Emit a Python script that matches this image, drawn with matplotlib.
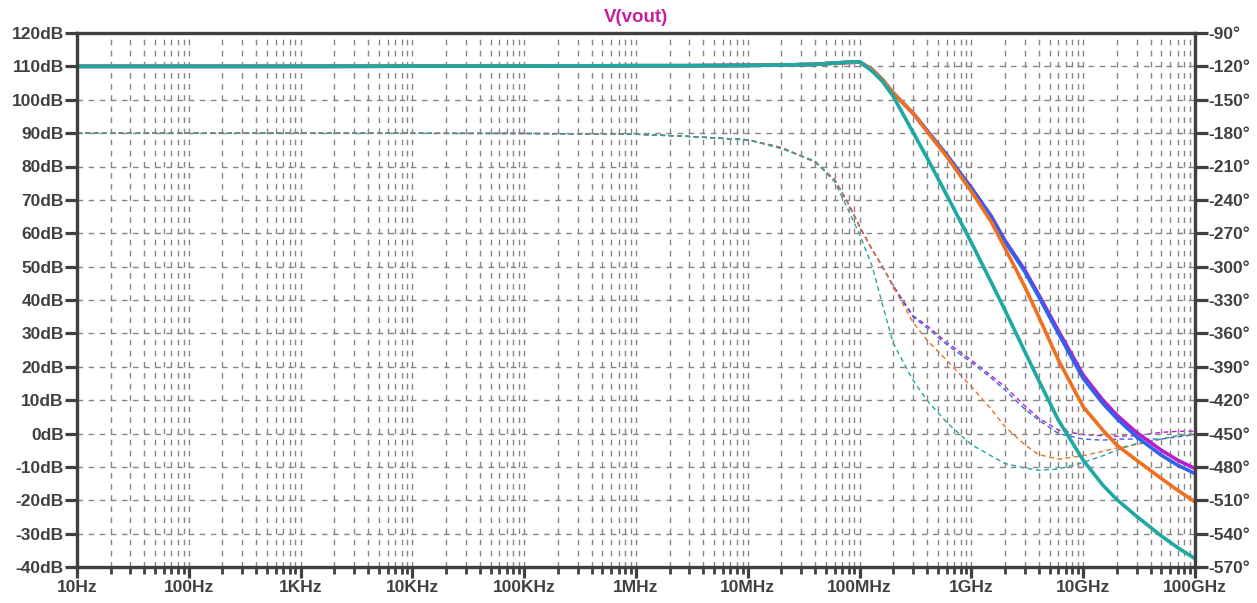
import matplotlib

matplotlib.use("Agg")
import matplotlib.pyplot as plt
from matplotlib.ticker import FixedLocator, NullFormatter

freq = [1e1, 1e3, 1e5, 1e6, 3e6, 1e7, 2e7, 4e7, 6e7, 8e7, 1e8, 1.3e8, 1.6e8,
        2e8, 3e8, 4e8, 6e8, 1e9, 1.5e9, 2e9, 3e9, 4e9, 6e9, 1e10, 1.5e10,
        2e10, 3e10, 5e10, 7e10, 1e11]

# magnitude (dB)
mag_teal = [110, 110, 110.1, 110.2, 110.2, 110.3, 110.4, 110.6, 111.0, 111.3, 111.4,
            108.5, 105.5, 101.0, 90.3, 82.7, 71.5, 57.2, 45.4, 36.9, 24.6, 15.9, 4.0,
            -8.0, -15.5, -19.8, -24.8, -30.7, -34.2, -37.5]
mag_orange = [110, 110, 110.1, 110.2, 110.2, 110.3, 110.4, 110.6, 111.0, 111.2, 111.3,
              109.0, 106.0, 102.0, 96.0, 90.5, 83.0, 72.5, 63.5, 55.5, 44.0, 35.0, 22.0,
              8.0, 1.0, -3.5, -8.0, -13.5, -17.0, -20.5]
mag_blue = [110, 110, 110.1, 110.2, 110.2, 110.3, 110.4, 110.6, 111.0, 111.2, 111.3,
            109.0, 106.0, 102.0, 96.0, 90.8, 83.5, 73.5, 65.0, 57.5, 48.5, 41.0, 30.0,
            16.5, 9.0, 4.5, -1.0, -6.5, -9.5, -12.0]
mag_magenta = [110, 110, 110.1, 110.2, 110.2, 110.3, 110.4, 110.6, 111.0, 111.2, 111.3,
               109.0, 106.0, 102.0, 96.0, 90.8, 83.5, 73.6, 65.2, 57.8, 49.0, 41.6, 30.8,
               17.5, 10.0, 5.5, 0.3, -5.0, -8.0, -10.5]

# phase (degrees)
ph_teal = [-180, -180, -180.3, -181, -183, -186, -194, -205, -224, -250, -271,
           -300, -334, -369, -402, -420, -440, -460, -470, -477, -481, -483, -482,
           -476, -470, -465, -459, -455, -452, -451]
ph_orange = [-180, -180, -180.3, -181, -183, -186, -193, -206, -222, -244, -264,
             -285, -300, -318, -350, -366, -384, -408, -428, -444, -460, -469, -473,
             -470, -466, -463, -460, -455, -452, -450]
ph_blue = [-180, -180, -180.3, -181, -183, -186, -193, -206, -222, -244, -264,
           -285, -300, -318, -345, -355, -370, -386, -400, -411, -428, -438, -450,
           -455, -456, -455, -455, -455, -453, -451]
ph_magenta = [-180, -180, -180.3, -181, -183, -186, -193, -206, -222, -244, -264,
              -285, -300, -317, -344, -353, -368, -384, -398, -408, -425, -436, -447,
              -451, -452, -452.5, -452, -449, -448, -448]

x_ticks = [1e1, 1e2, 1e3, 1e4, 1e5, 1e6, 1e7, 1e8, 1e9, 1e10, 1e11]
x_labels = ["10Hz", "100Hz", "1KHz", "10KHz", "100KHz", "1MHz", "10MHz",
            "100MHz", "1GHz", "10GHz", "100GHz"]
db_ticks = list(range(-40, 121, 10))
deg_ticks = list(range(-570, -89, 30))

TEAL = "#1ea8a2"
ORANGE = "#f0701e"
BLUE = "#2f62ee"
MAGENTA = "#b81ec8"
AXIS = "#404040"
GRID = "#858585"

plt.rcParams["font.family"] = ["Liberation Sans", "DejaVu Sans"]

fig = plt.figure(figsize=(12.57, 6.03), dpi=100)
ax = fig.add_axes([77 / 1257, 36 / 603, 1118 / 1257, 534 / 603])
ax2 = ax.twinx()
ax.set_zorder(ax2.get_zorder() + 1)
ax.patch.set_visible(False)

ax.set_xscale("log")
ax.set_xlim(1e1, 1e11)
ax.set_ylim(-40, 120)
ax2.set_ylim(-570, -90)

minor = [m * 10 ** d for d in range(1, 11) for m in range(2, 10)]
ax.xaxis.set_major_locator(FixedLocator(x_ticks))
ax.xaxis.set_minor_locator(FixedLocator(minor))
ax.xaxis.set_minor_formatter(NullFormatter())
ax.set_xticklabels(x_labels)
ax.set_yticks(db_ticks)
ax.set_yticklabels([f"{v}dB" for v in db_ticks])
ax2.set_yticks(deg_ticks)
ax2.set_yticklabels([f"{v}\u00b0" for v in deg_ticks])

ax.grid(True, which="both", axis="x", color=GRID, lw=1.0, linestyle=(0, (4, 4)))
ax.grid(True, which="major", axis="y", color=GRID, lw=1.0, linestyle=(0, (4, 4)))

for a in (ax, ax2):
    for s in a.spines.values():
        s.set_color(AXIS)
        s.set_linewidth(2.3)
    a.tick_params(colors=AXIS, labelsize=12.5, width=2.3, length=9, direction="out", pad=0.5)
    for lab in a.get_xticklabels() + a.get_yticklabels():
        lab.set_fontweight("bold")
ax.tick_params(axis="x", which="major", length=8, pad=1)
ax.tick_params(axis="x", which="minor", length=5, width=2.0, color=AXIS)

# phase traces (dashed, thin)
for vals, c in ((ph_magenta, MAGENTA), (ph_blue, BLUE), (ph_orange, ORANGE), (ph_teal, TEAL)):
    ax2.plot(freq, vals, color=c, lw=1.0, linestyle=(0, (3.5, 2.5)))

# magnitude traces (solid, thick)
for vals, c in ((mag_magenta, MAGENTA), (mag_blue, BLUE), (mag_orange, ORANGE), (mag_teal, TEAL)):
    ax.plot(freq, vals, color=c, lw=2.6, solid_capstyle="round")

fig.text(636 / 1257, 1 - 18 / 603, "V(vout)", ha="center", va="center",
         color="#c4209c", fontsize=13.5, fontweight="bold",
         bbox=dict(facecolor="white", edgecolor="none", pad=2))

fig.savefig("out.png", dpi=100)
